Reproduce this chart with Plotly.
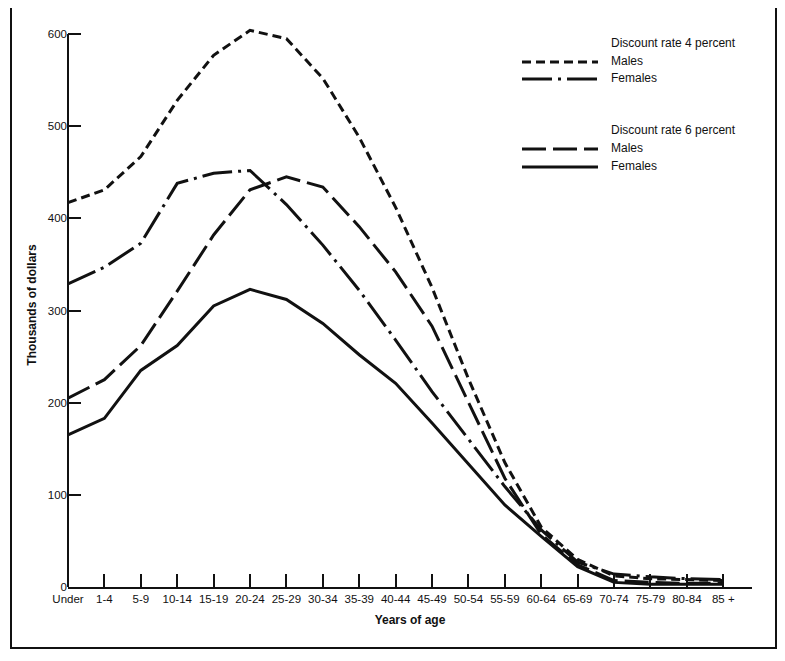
import plotly.graph_objects as go

# ---- data (thousands of dollars) ----
age_groups = ["Under", "1-4", "5-9", "10-14", "15-19", "20-24", "25-29", "30-34",
              "35-39", "40-44", "45-49", "50-54", "55-59", "60-64", "65-69",
              "70-74", "75-79", "80-84", "85 +"]

males_4pct = [417, 431, 467, 528, 577, 604, 595, 552, 488, 412, 325, 226, 135,
              65, 30, 12, 9, 8, 7]
females_4pct = [329, 347, 373, 438, 449, 452, 415, 371, 322, 268, 212, 160, 109,
                62, 27, 14, 11, 9, 8]
males_6pct = [205, 225, 262, 321, 382, 431, 445, 434, 391, 342, 283, 200, 118,
              57, 24, 7, 5, 4, 4]
females_6pct = [165, 183, 235, 262, 305, 323, 312, 286, 252, 221, 178, 134, 89,
                55, 22, 5, 3, 3, 3]

y_ticks = [0, 100, 200, 300, 400, 500, 600]

legend_titles = ["Discount rate 4 percent", "Discount rate 6 percent"]
legend_labels = ["Males", "Females"]

# ---- styles ----
INK = "#111111"
FONT = "Liberation Sans, Arial, sans-serif"
LW = 3
styles = {
    "m4": "9px,5px",
    "f4": "30px,6px,3px,6px",
    "m6": "24px,7px",
    "f6": "solid",
}

fig = go.Figure()
for key, vals in [("m4", males_4pct), ("f4", females_4pct),
                  ("m6", males_6pct), ("f6", females_6pct)]:
    fig.add_trace(go.Scatter(
        x=age_groups, y=vals, mode="lines", cliponaxis=False,
        line=dict(color=INK, width=LW, dash=styles[key]),
        showlegend=False, hoverinfo="x+y",
    ))

# page body has an 8px default margin: shrink the figure to compensate
OFF = 8
W, H = 785 - 2 * OFF, 661 - 2 * OFF
Y_TOP_TICK, Y_MAX = 600, 612               # headroom so the 604 peak is not clipped
PL, PR, PB = 68, 752, 587                  # plot area in reference pixels
PX_PER_UNIT = (587 - 34) / Y_TOP_TICK
PT = PB - Y_MAX * PX_PER_UNIT
L, T = PL - OFF, PT - OFF
R, B = W - (PR - OFF), H - (PB - OFF)
pw, ph = PR - PL, PB - PT


def px(xp):
    return (xp - PL) / pw


def py(yp):
    return (PB - yp) / ph


shapes = []
annotations = []

# outer frame
shapes.append(dict(type="rect", xref="paper", yref="paper",
                   x0=px(11), x1=px(776), y0=py(648), y1=py(7),
                   line=dict(color=INK, width=2)))
# y axis line from 0 to 600 only
shapes.append(dict(type="line", xref="paper", yref="y",
                   x0=0, x1=0, y0=0, y1=Y_TOP_TICK,
                   line=dict(color=INK, width=2)))

# manual legend
legend_rows = [
    (legend_titles[0], None, 43),
    (legend_labels[0], styles["m4"], 61),
    (legend_labels[1], styles["f4"], 78),
    (legend_titles[1], None, 130),
    (legend_labels[0], styles["m6"], 148),
    (legend_labels[1], styles["f6"], 166),
]
for text, dash, yp in legend_rows:
    annotations.append(dict(text=text, xref="paper", yref="paper",
                            x=px(609), y=py(yp), xanchor="left", yanchor="middle",
                            showarrow=False,
                            font=dict(size=12, color=INK, family=FONT)))
    if dash is not None:
        shapes.append(dict(type="line", xref="paper", yref="paper",
                           x0=px(522), x1=px(598), y0=py(yp + 1), y1=py(yp + 1),
                           line=dict(color=INK, width=LW, dash=dash)))

fig.update_layout(
    width=W, height=H,
    margin=dict(l=L, r=R, t=T, b=B, pad=0),
    paper_bgcolor="white", plot_bgcolor="white",
    font=dict(family=FONT, size=12, color=INK),
    shapes=shapes, annotations=annotations,
    showlegend=False,
)

fig.update_xaxes(
    type="category", categoryorder="array", categoryarray=age_groups,
    range=[0, 18.79],
    showgrid=False, zeroline=False,
    showline=True, linecolor=INK, linewidth=2,
    ticks="inside", ticklen=13, tickwidth=2, tickcolor=INK,
    tickfont=dict(size=11.5, family=FONT, color=INK),
    title=dict(text="<b>Years of age</b>", standoff=12,
               font=dict(size=12, family=FONT, color=INK)),
)
fig.update_yaxes(
    range=[0, Y_MAX], tickvals=y_ticks,
    showgrid=False, zeroline=False,
    showline=False,
    ticks="inside", ticklen=13, tickwidth=2, tickcolor=INK,
    tickfont=dict(size=11.5, family=FONT, color=INK),
    title=dict(text="<b>Thousands of dollars</b>", standoff=8,
               font=dict(size=12, family=FONT, color=INK)),
)

fig.write_html("out.html")
